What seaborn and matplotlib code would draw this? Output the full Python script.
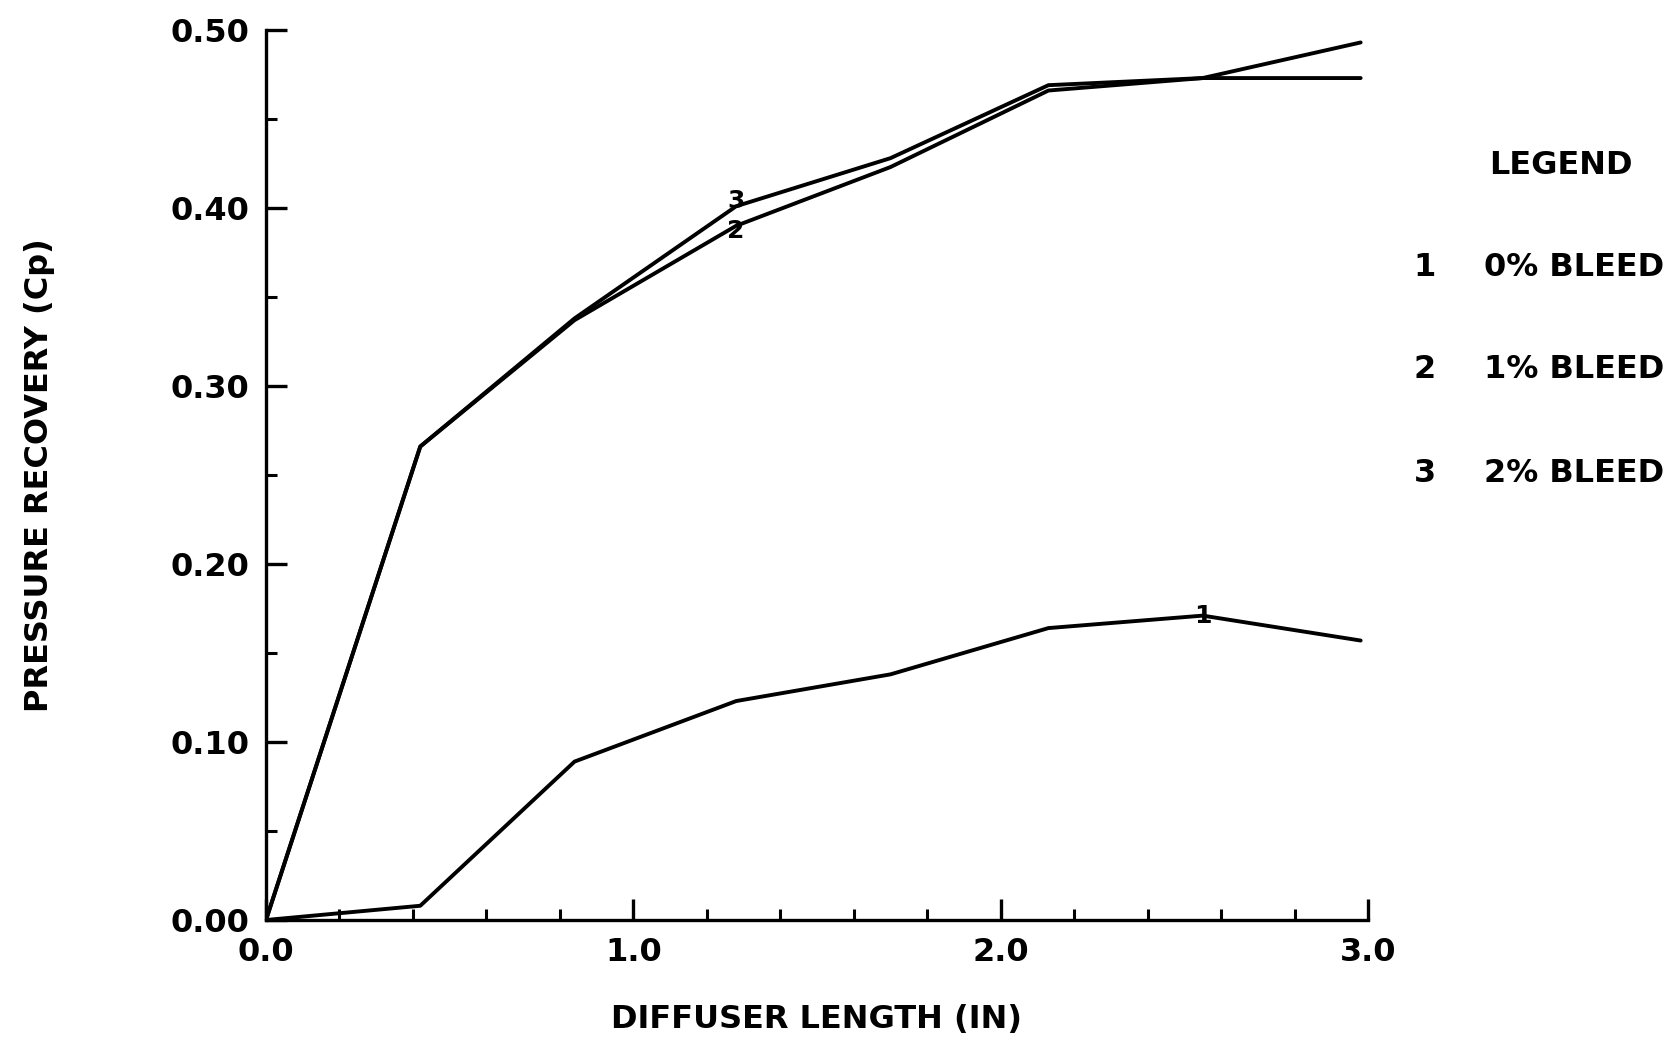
import matplotlib
matplotlib.use("Agg")
import matplotlib.pyplot as plt
from matplotlib.ticker import MultipleLocator
import numpy as np
import pandas as pd
import seaborn as sns

# ---- data ----
diffuser_length = [0.0, 0.42, 0.84, 1.28, 1.70, 2.13, 2.55, 2.98]
cp_bleed0 = [0.0, 0.008, 0.089, 0.123, 0.138, 0.164, 0.171, 0.157]
cp_bleed1 = [0.0, 0.266, 0.337, 0.390, 0.423, 0.466, 0.473, 0.473]
cp_bleed2 = [0.0, 0.266, 0.338, 0.401, 0.428, 0.469, 0.473, 0.493]
series_ids = ["1", "2", "3"]
series_names = ["0% BLEED", "1% BLEED", "2% BLEED"]
marker_index = [6, 3, 3]
x_ticks = [0.0, 1.0, 2.0, 3.0]
x_ticklabels = ["0.0", "1.0", "2.0", "3.0"]
y_ticks = [0.0, 0.1, 0.2, 0.3, 0.4, 0.5]
y_ticklabels = ["0.00", "0.10", "0.20", "0.30", "0.40", "0.50"]

sns.set_theme(style="white")
plt.rcParams["font.family"] = ["DejaVu Sans"]
plt.rcParams["font.weight"] = "bold"
plt.rcParams["text.color"] = "black"

W, H = 1674, 1042
fig = plt.figure(figsize=(W / 100, H / 100), dpi=100)
ax = fig.add_axes([266 / W, 1 - 920 / H, (1368 - 266) / W, (920 - 30) / H])

all_y = [cp_bleed0, cp_bleed1, cp_bleed2]
df = pd.concat(
    [pd.DataFrame({"x": diffuser_length, "y": ys, "series": sid})
     for sid, ys in zip(series_ids, all_y)],
    ignore_index=True,
)
sns.lineplot(data=df, x="x", y="y", hue="series", units="series",
             estimator=None, sort=False,
             palette={s: "black" for s in series_ids},
             linewidth=2.8, legend=False, ax=ax)

# numeric symbols on the curves
marker_offsets = [0, -4, 4]
for sid, ys, idx, off in zip(series_ids, all_y, marker_index, marker_offsets):
    ax.annotate(sid, (diffuser_length[idx], ys[idx]), xytext=(0, off),
                textcoords="offset points", ha="center", va="center",
                fontsize=18, fontweight="bold", color="black")

ax.set_xlim(0, 3.0)
ax.set_ylim(0, 0.5)
ax.set_xticks(x_ticks)
ax.set_xticklabels(x_ticklabels)
ax.set_yticks(y_ticks)
ax.set_yticklabels(y_ticklabels)
ax.xaxis.set_minor_locator(MultipleLocator(0.2))
ax.yaxis.set_minor_locator(MultipleLocator(0.05))

for side in ["top", "right"]:
    ax.spines[side].set_visible(False)
for side in ["left", "bottom"]:
    ax.spines[side].set_color("black")
    ax.spines[side].set_linewidth(2.4)

ax.tick_params(which="both", bottom=True, left=True, top=False, right=False)
ax.tick_params(which="major", direction="in", length=15, width=2.4,
               color="black", pad=12, labelsize=23, labelcolor="black")
ax.tick_params(which="minor", direction="in", length=8, width=2.2,
               color="black")
for lab in ax.get_xticklabels() + ax.get_yticklabels():
    lab.set_fontweight("bold")

ax.set_xlabel("DIFFUSER LENGTH (IN)", fontsize=23, fontweight="bold",
              labelpad=26, color="black")
ax.set_ylabel("PRESSURE RECOVERY (Cp)", fontsize=23, fontweight="bold",
              labelpad=83, color="black")
ax.grid(False)

# legend block
fig.text(1489 / W, 1 - 165 / H, "LEGEND", fontsize=23, fontweight="bold",
         ha="left", va="center", color="black")
row_y = [267, 370, 473]
for sid, name, ry in zip(series_ids, series_names, row_y):
    fig.text(1425 / W, 1 - ry / H, sid, fontsize=23, fontweight="bold",
             ha="center", va="center", color="black")
    fig.text(1484 / W, 1 - ry / H, name, fontsize=23, fontweight="bold",
             ha="left", va="center", color="black")

fig.savefig("out.png", dpi=100, facecolor="white")
